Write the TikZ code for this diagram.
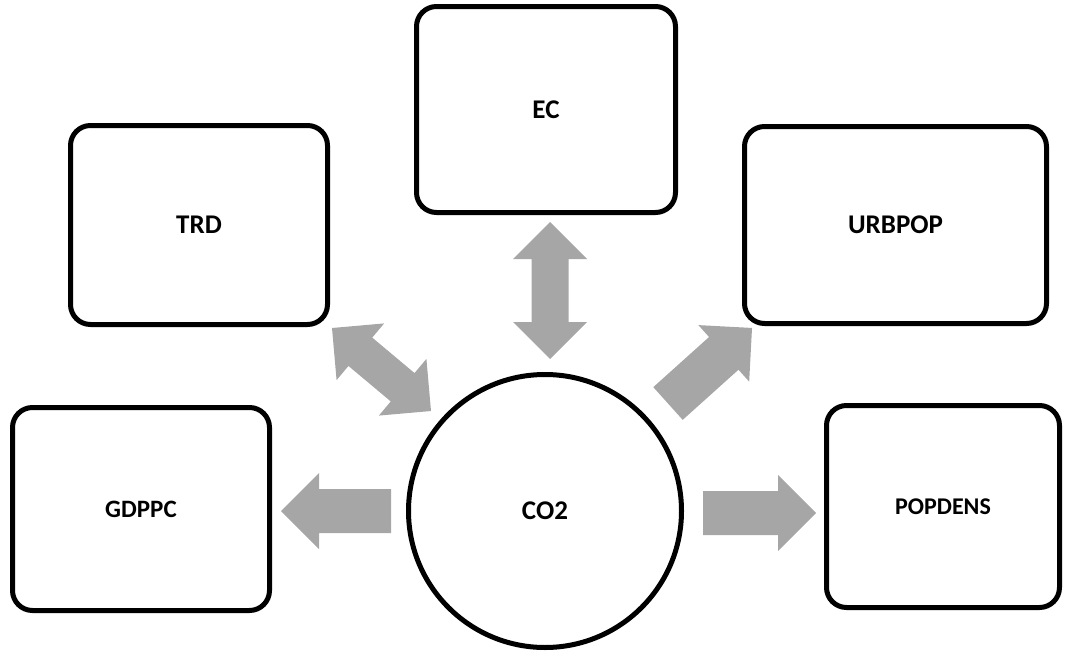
\documentclass[tikz,border=0pt]{standalone}
\usepackage{fontspec}
\setmainfont{Carlito}
\definecolor{arrowgray}{HTML}{A6A6A6}
\newcommand\singleblock[4]{% tail x, tail y, angle, length
  \begin{scope}[shift={(#1,#2)},rotate=#3]
    \fill[arrowgray] (0,-22) -- (#4-38,-22) -- (#4-38,-38) -- (#4,0)
      -- (#4-38,38) -- (#4-38,22) -- (0,22) -- cycle;
  \end{scope}}
\newcommand\doubleblock[4]{% tip x, tip y, angle, length
  \begin{scope}[shift={(#1,#2)},rotate=#3]
    \fill[arrowgray] (0,0) -- (37,-37) -- (37,-18.5) -- (#4-37,-18.5)
      -- (#4-37,-37) -- (#4,0) -- (#4-37,37) -- (#4-37,18.5)
      -- (37,18.5) -- (37,37) -- cycle;
  \end{scope}}
\begin{document}
\begin{tikzpicture}[x=1pt,y=-1pt,
  varbox/.style={draw=black,line width=5pt,rounded corners=20pt,fill=white,
    inner sep=0pt,font=\bfseries\fontsize{27}{30}\selectfont},
  hubcircle/.style={draw=black,line width=5pt,circle,fill=white,inner sep=0pt,
    minimum size=273pt,font=\bfseries\fontsize{27}{30}\selectfont}]
\useasboundingbox (0,0) rectangle (1069,653);
% boxes (outer edges minus line width)
\node[varbox,minimum width=259pt,minimum height=206pt] (ec) at (546,109.5) {EC};
\node[varbox,minimum width=257pt,minimum height=199pt] (trd) at (199,225) {TRD};
\node[varbox,minimum width=302pt,minimum height=197pt] (urb) at (895.5,225) {URBPOP};
\node[varbox,minimum width=257pt,minimum height=203pt,font=\bfseries\fontsize{25}{28}\selectfont] (gdp) at (141,509) {GDPPC};
\node[varbox,minimum width=233pt,minimum height=202pt,font=\bfseries\fontsize{24}{28}\selectfont] (pop) at (943,506.5) {POPDENS};
\node[hubcircle] (co2) at (545,511) {CO2};
% block arrows
\doubleblock{550}{222}{-90}{137}
\doubleblock{332}{328}{-39.98}{129.2}
\singleblock{668}{403.5}{41.96}{113}
\singleblock{391}{511}{180}{110}
\singleblock{703}{513}{0}{113}
\end{tikzpicture}
\end{document}
